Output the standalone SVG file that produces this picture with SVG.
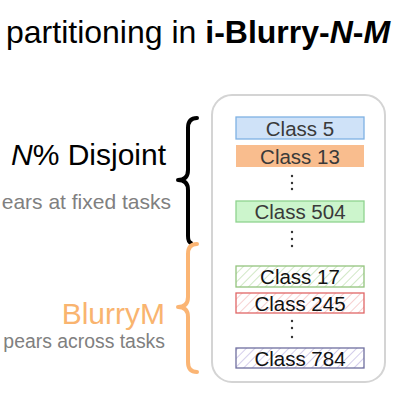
<svg xmlns="http://www.w3.org/2000/svg" width="400" height="400" viewBox="0 0 400 400">
<style>
text{font-family:"Liberation Sans",Arial,sans-serif}
.cls{font-size:20.5px;text-anchor:middle}
.dark{fill:#3a3a3a}
.blk{fill:#111}
.gray{fill:#808080;font-size:21px;text-anchor:end}
.brace{fill:none;stroke-width:4;stroke-linecap:round;stroke-linejoin:round}
.dot{fill:#333}
</style>
<defs>
<pattern id="hg" patternUnits="userSpaceOnUse" width="6" height="6" patternTransform="rotate(45)"><rect width="6" height="6" fill="#ffffff"/><line x1="0" y1="0" x2="0" y2="6" stroke="#c5e3b8" stroke-width="1.6"/></pattern>
<pattern id="hr" patternUnits="userSpaceOnUse" width="6" height="6" patternTransform="rotate(45)"><rect width="6" height="6" fill="#ffffff"/><line x1="0" y1="0" x2="0" y2="6" stroke="#f6c6c6" stroke-width="1.6"/></pattern>
<pattern id="hp" patternUnits="userSpaceOnUse" width="6" height="6" patternTransform="rotate(45)"><rect width="6" height="6" fill="#ffffff"/><line x1="0" y1="0" x2="0" y2="6" stroke="#c9c2e6" stroke-width="1.6"/></pattern>
</defs>
<rect width="400" height="400" fill="#ffffff"/>
<text x="6" y="43" font-size="32" fill="#000">partitioning in <tspan font-weight="bold">i-Blurry-</tspan><tspan font-weight="bold" font-style="italic">N</tspan><tspan font-weight="bold">-</tspan><tspan font-weight="bold" font-style="italic">M</tspan></text>

<g id="label-disjoint">
<text x="166" y="165" font-size="30" fill="#000" text-anchor="end"><tspan font-style="italic">N</tspan>% Disjoint</text>
<text class="gray" x="171" y="209">ears at fixed tasks</text>
</g>
<g id="label-blurry">
<text x="165" y="324" font-size="30" fill="#f9b46f" text-anchor="end">BlurryM</text>
<text class="gray" x="165" y="348" style="font-size:19.4px">pears across tasks</text>
</g>

<g id="connectors">
<path class="brace" stroke="#000" d="M197,118 Q188,118 188,128 V170 Q188,180 178,180 Q188,180 188,190 V236 Q188,242 191,243"/>
<path class="brace" stroke="#fbb574" d="M197,244 Q188,244 188,254 V297 Q188,307 178,307 Q188,307 188,317 V362 Q188,372 197,372"/>
</g>

<g id="container">
<rect x="212" y="95" width="173" height="287" rx="20" fill="#fff" stroke="#d4d4d4" stroke-width="2"/>
</g>

<g id="class5">
<rect x="236" y="117" width="128" height="22" fill="#cfe2f8" stroke="#7fb1e3" stroke-width="1.3"/>
<text class="cls dark" x="300" y="136">Class 5</text>
</g>
<g id="class13">
<rect x="236" y="145" width="128" height="22" fill="#f9bd8e"/>
<text class="cls dark" x="300" y="164">Class 13</text>
</g>
<g id="dots1">
<circle class="dot" cx="292" cy="176" r="1.2"/><circle class="dot" cx="292" cy="183" r="1.2"/><circle class="dot" cx="292" cy="189" r="1.2"/>
</g>
<g id="class504">
<rect x="236" y="201" width="128" height="21" fill="#ccf5cc" stroke="#8fd38f" stroke-width="1.3"/>
<text class="cls dark" x="300" y="219">Class 504</text>
</g>
<g id="dots2">
<circle class="dot" cx="292" cy="232" r="1.2"/><circle class="dot" cx="292" cy="239" r="1.2"/><circle class="dot" cx="292" cy="246" r="1.2"/>
</g>
<g id="class17">
<rect x="236" y="266" width="128" height="21" fill="url(#hg)" stroke="#93c47d" stroke-width="1.3"/>
<text class="cls blk" x="300" y="284">Class 17</text>
</g>
<g id="class245">
<rect x="236" y="293" width="128" height="20" fill="url(#hr)" stroke="#e06666" stroke-width="1.3"/>
<text class="cls blk" x="300" y="311">Class 245</text>
</g>
<g id="dots3">
<circle class="dot" cx="292" cy="321" r="1.2"/><circle class="dot" cx="292" cy="328" r="1.2"/><circle class="dot" cx="292" cy="337" r="1.2"/>
</g>
<g id="class784">
<rect x="236" y="348" width="128" height="20" fill="url(#hp)" stroke="#6f6f9f" stroke-width="1.3"/>
<text class="cls blk" x="300" y="366">Class 784</text>
</g>
</svg>
